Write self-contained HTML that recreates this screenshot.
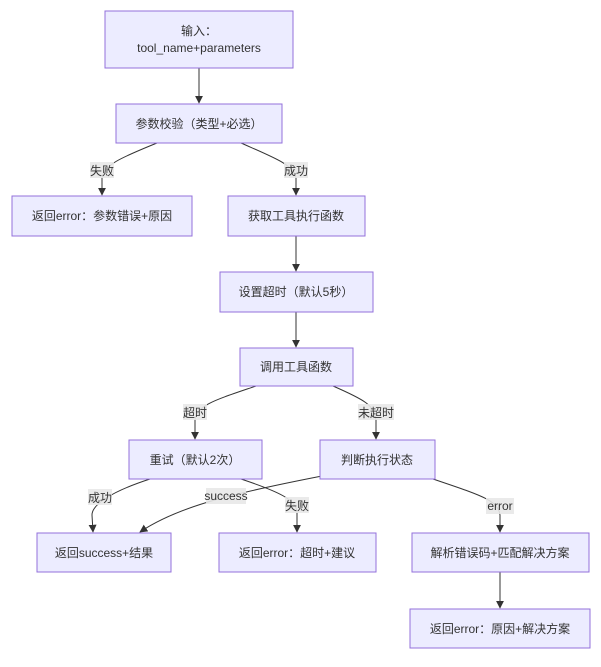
<!DOCTYPE html>
<html><head><meta charset="utf-8"><style>
html,body{margin:0;padding:0;background:#fff;}
text{font-family:"Liberation Sans","Noto Sans CJK SC",sans-serif;font-size:12px;fill:#333;}
.n{fill:#ECECFF;stroke:#9370DB;stroke-width:1;}
.e{fill:none;stroke:#333;stroke-width:1;}
.lb{fill:#e8e8e8;opacity:0.9;}
</style></head><body>
<svg width="601" height="662" viewBox="0 0 601 662" xmlns="http://www.w3.org/2000/svg">
<defs><marker id="a" viewBox="0 0 10 10" refX="9" refY="5" markerWidth="8" markerHeight="8" orient="auto"><path d="M0,0L10,5L0,10z" fill="#333"/></marker></defs>
<g class="e">
<path d="M199,68L199,103" marker-end="url(#a)"/>
<path d="M157,143C120,158 104,165 102,178 L102,195" marker-end="url(#a)"/>
<path d="M241,143C275,158 294,165 296,178 L296,195" marker-end="url(#a)"/>
<path d="M296,236L296,271" marker-end="url(#a)"/>
<path d="M296,312L296,347" marker-end="url(#a)"/>
<path d="M256,386C215,400 197,405 195,420 L195,439" marker-end="url(#a)"/>
<path d="M333,386C365,400 374,405 376,420 L376,439" marker-end="url(#a)"/>
<path d="M150,479C110,492 92,505 92,515 L93,532" marker-end="url(#a)"/>
<path d="M241,479C280,492 296,500 297,512 L297,532" marker-end="url(#a)"/>
<path d="M322,476C240,492 180,505 140,532" marker-end="url(#a)"/>
<path d="M433,479C480,495 498,500 500,515 L500,532" marker-end="url(#a)"/>
<path d="M500,572L500,608" marker-end="url(#a)"/>
</g>
<rect class="n" x="105" y="11" width="188" height="57"/>
<text x="199" y="35" text-anchor="middle">输入：</text>
<text x="199" y="52" text-anchor="middle">tool_name+parameters</text>
<rect class="n" x="116" y="104" width="166" height="39"/><text x="199" y="128" text-anchor="middle">参数校验（类型+必选）</text>
<rect class="n" x="12" y="196" width="180" height="40"/><text x="102" y="220" text-anchor="middle">返回error：参数错误+原因</text>
<rect class="n" x="228" y="196" width="137" height="40"/><text x="296" y="220" text-anchor="middle">获取工具执行函数</text>
<rect class="n" x="220" y="272" width="153" height="40"/><text x="296" y="296" text-anchor="middle">设置超时（默认5秒）</text>
<rect class="n" x="240" y="348" width="113" height="38"/><text x="296" y="371" text-anchor="middle">调用工具函数</text>
<rect class="n" x="129" y="440" width="133" height="39"/><text x="195" y="464" text-anchor="middle">重试（默认2次）</text>
<rect class="n" x="320" y="440" width="115" height="39"/><text x="377" y="464" text-anchor="middle">判断执行状态</text>
<rect class="n" x="37" y="533" width="134" height="39"/><text x="104" y="557" text-anchor="middle">返回success+结果</text>
<rect class="n" x="219" y="533" width="157" height="39"/><text x="297" y="557" text-anchor="middle">返回error：超时+建议</text>
<rect class="n" x="412" y="533" width="177" height="39"/><text x="500" y="557" text-anchor="middle">解析错误码+匹配解决方案</text>
<rect class="n" x="410" y="609" width="180" height="39"/><text x="500" y="633" text-anchor="middle">返回error：原因+解决方案</text>
<rect class="lb" x="90" y="162" width="24" height="16"/><text x="102" y="175" text-anchor="middle">失败</text>
<rect class="lb" x="284" y="162" width="24" height="16"/><text x="296" y="175" text-anchor="middle">成功</text>
<rect class="lb" x="183" y="404" width="24" height="16"/><text x="195" y="417" text-anchor="middle">超时</text>
<rect class="lb" x="358" y="404" width="36" height="16"/><text x="376" y="417" text-anchor="middle">未超时</text>
<rect class="lb" x="88" y="489" width="24" height="16"/><text x="100" y="502" text-anchor="middle">成功</text>
<rect class="lb" x="206" y="488" width="40" height="16"/><text x="226" y="500" text-anchor="middle">success</text>
<rect class="lb" x="285" y="497" width="24" height="16"/><text x="297" y="510" text-anchor="middle">失败</text>
<rect class="lb" x="486" y="498" width="28" height="16"/><text x="500" y="510" text-anchor="middle">error</text>
</svg>
</body></html>
